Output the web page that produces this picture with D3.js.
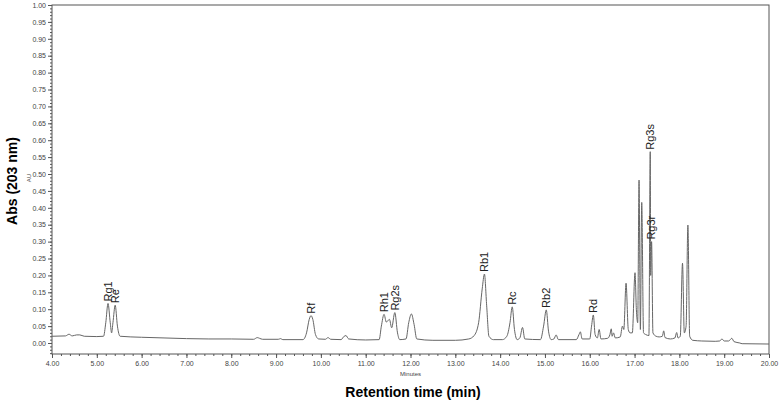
<!DOCTYPE html>
<html>
<head>
<meta charset="utf-8">
<script src="https://cdn.jsdelivr.net/npm/d3@7"></script>
<style>
  html, body { margin: 0; padding: 0; background: #fff; }
  svg { display: block; }
</style>
</head>
<body>
<svg id="chart" width="780" height="401"></svg>
<script>
// ---- data ----
const traceTime = [
  4.00, 4.30, 4.38, 4.45, 4.55, 4.62, 4.72, 5.00, 5.15, 5.20, 5.25, 5.30, 5.33, 5.36, 5.41, 5.46, 5.52,
  6.00, 6.50, 7.00, 7.50, 8.00, 8.50, 8.58, 8.63, 8.70, 9.05, 9.10, 9.15, 9.60, 9.68, 9.74, 9.78, 9.82,
  9.88, 9.95, 10.10, 10.16, 10.22, 10.45, 10.52, 10.56, 10.62, 11.00, 11.30, 11.35, 11.41, 11.46, 11.53,
  11.58, 11.65, 11.71, 11.76, 11.90, 11.96, 12.02, 12.08, 12.14, 12.50, 13.00, 13.30, 13.42, 13.52, 13.60,
  13.65, 13.70, 13.75, 13.85, 14.05, 14.15, 14.22, 14.27, 14.32, 14.38, 14.44, 14.50, 14.55, 14.90, 14.97,
  15.03, 15.08, 15.14, 15.20, 15.25, 15.30, 15.70, 15.76, 15.79, 15.83, 16.00, 16.04, 16.08, 16.12, 16.17,
  16.21, 16.25, 16.40, 16.45, 16.48, 16.50, 16.53, 16.57, 16.68, 16.73, 16.76, 16.81, 16.86, 16.90, 16.95,
  17.01, 17.04, 17.07, 17.10, 17.13, 17.16, 17.20, 17.25, 17.32, 17.35, 17.36, 17.38, 17.41, 17.48, 17.55,
  17.62, 17.65, 17.68, 17.80, 17.90, 17.94, 17.97, 18.02, 18.07, 18.11, 18.15, 18.19, 18.23, 18.30, 18.50,
  18.80, 18.90, 18.95, 19.00, 19.10, 19.17, 19.22, 19.35, 19.40, 20.00
];
const traceAbs = [
  0.020, 0.021, 0.026, 0.021, 0.024, 0.024, 0.020, 0.019, 0.020, 0.060, 0.117, 0.060, 0.030, 0.060, 0.112, 0.050, 0.020,
  0.017, 0.015, 0.013, 0.012, 0.012, 0.011, 0.016, 0.014, 0.011, 0.011, 0.013, 0.010, 0.010, 0.030, 0.070, 0.081, 0.070,
  0.025, 0.012, 0.011, 0.016, 0.011, 0.010, 0.020, 0.022, 0.012, 0.009, 0.010, 0.050, 0.085, 0.062, 0.070,
  0.045, 0.090, 0.030, 0.010, 0.012, 0.060, 0.086, 0.055, 0.012, 0.008, 0.008, 0.012, 0.022, 0.060, 0.160,
  0.204, 0.110, 0.020, 0.010, 0.010, 0.020, 0.060, 0.107, 0.040, 0.010, 0.015, 0.046, 0.012, 0.010, 0.050,
  0.098, 0.035, 0.010, 0.012, 0.024, 0.010, 0.010, 0.025, 0.033, 0.012, 0.012, 0.050, 0.083, 0.025, 0.015,
  0.040, 0.012, 0.014, 0.025, 0.042, 0.020, 0.030, 0.015, 0.018, 0.050, 0.040, 0.177, 0.040, 0.030, 0.030,
  0.208, 0.100, 0.060, 0.482, 0.040, 0.416, 0.030, 0.025, 0.022, 0.566, 0.200, 0.300, 0.030, 0.020, 0.018,
  0.020, 0.036, 0.016, 0.012, 0.015, 0.031, 0.015, 0.020, 0.236, 0.030, 0.050, 0.349, 0.020, 0.008, 0.006,
  0.005, 0.006, 0.012, 0.006, 0.006, 0.014, 0.004, 0.000, -0.002, -0.003
];

const peakNames   = ["Rg1", "Re", "Rf", "Rh1", "Rg2s", "Rb1", "Rc", "Rb2", "Rd", "Rg3s", "Rg3r"];
const peakTimes   = [5.25, 5.41, 9.78, 11.41, 11.65, 13.65, 14.27, 15.03, 16.08, 17.35, 17.37];
const peakHeights = [0.117, 0.112, 0.081, 0.085, 0.090, 0.204, 0.107, 0.098, 0.083, 0.566, 0.300];

const xTickValues = [4, 5, 6, 7, 8, 9, 10, 11, 12, 13, 14, 15, 16, 17, 18, 19, 20];
const yTickValues = [0, 0.05, 0.10, 0.15, 0.20, 0.25, 0.30, 0.35, 0.40, 0.45, 0.50,
                     0.55, 0.60, 0.65, 0.70, 0.75, 0.80, 0.85, 0.90, 0.95, 1.00];

const xTitle = "Retention time (min)";
const yTitle = "Abs (203 nm)";
const xUnit = "Minutes";
const yUnit = "AU";

// ---- layout ----
const svg = d3.select("#chart");
const mLeft = 52, mRight = 769, mTop = 5, mBottom = 354;

const x = d3.scaleLinear().domain([4, 20]).range([mLeft, mRight]);
const y = d3.scaleLinear().domain([-0.0325, 1.0]).range([mBottom, mTop]);

const axisColor = "#555";
const labelColor = "#444";
const font = "'Liberation Sans', Arial, Helvetica, sans-serif";

// minor ticks
const xMinor = d3.range(4, 20.0001, 0.2).map(v => +v.toFixed(2));
const yMinor = d3.range(-3, 101).map(v => v / 100);

svg.append("g")
  .attr("transform", `translate(0,${mBottom})`)
  .call(d3.axisBottom(x).tickValues(xMinor).tickSize(2).tickFormat(""))
  .call(g => g.select(".domain").remove())
  .call(g => g.selectAll("line").attr("stroke", axisColor));

svg.append("g")
  .attr("transform", `translate(${mLeft},0)`)
  .call(d3.axisLeft(y).tickValues(yMinor).tickSize(2).tickFormat(""))
  .call(g => g.select(".domain").remove())
  .call(g => g.selectAll("line").attr("stroke", axisColor));

// major ticks
svg.append("g")
  .attr("transform", `translate(0,${mBottom})`)
  .call(d3.axisBottom(x).tickValues(xTickValues).tickSize(4).tickPadding(3).tickFormat(d3.format(".2f")))
  .call(g => g.select(".domain").remove())
  .call(g => g.selectAll("line").attr("stroke", axisColor))
  .call(g => g.selectAll("text").attr("fill", labelColor).style("font", `7px ${font}`));

svg.append("g")
  .attr("transform", `translate(${mLeft},0)`)
  .call(d3.axisLeft(y).tickValues(yTickValues).tickSize(4).tickPadding(2).tickFormat(d3.format(".2f")))
  .call(g => g.select(".domain").remove())
  .call(g => g.selectAll("line").attr("stroke", axisColor))
  .call(g => g.selectAll("text").attr("fill", labelColor).style("font", `7px ${font}`));

// frame
svg.append("rect")
  .attr("x", mLeft).attr("y", mTop)
  .attr("width", mRight - mLeft).attr("height", mBottom - mTop)
  .attr("fill", "none").attr("stroke", axisColor).attr("stroke-width", 1);

// trace
const pts = traceTime.map((t, i) => [t, traceAbs[i]]);
svg.append("path")
  .datum(pts)
  .attr("fill", "none")
  .attr("stroke", "#666")
  .attr("stroke-width", 1)
  .attr("d", d3.line().x(d => x(d[0])).y(d => y(d[1])).curve(d3.curveMonotoneX));

// peak labels
svg.append("g").selectAll("text")
  .data(peakNames)
  .join("text")
  .attr("transform", (d, i) => `translate(${x(peakTimes[i]) + 4},${y(peakHeights[i]) - 2}) rotate(-90)`)
  .attr("text-anchor", "start")
  .attr("fill", "#222")
  .style("font", `11px ${font}`)
  .text(d => d);

// unit labels
svg.append("text")
  .attr("x", (mLeft + mRight) / 2).attr("y", 376)
  .attr("text-anchor", "middle")
  .attr("fill", labelColor)
  .style("font", `6px ${font}`)
  .text(xUnit);

svg.append("text")
  .attr("transform", `translate(31,178) rotate(-90)`)
  .attr("text-anchor", "middle")
  .attr("fill", labelColor)
  .style("font", `6px ${font}`)
  .text(yUnit);

// axis titles
svg.append("text")
  .attr("x", 413).attr("y", 397)
  .attr("text-anchor", "middle")
  .attr("fill", "#000")
  .style("font", `bold 14px ${font}`)
  .text(xTitle);

svg.append("text")
  .attr("transform", `translate(17,181) rotate(-90)`)
  .attr("text-anchor", "middle")
  .attr("fill", "#000")
  .style("font", `bold 14px ${font}`)
  .text(yTitle);
</script>
</body>
</html>
